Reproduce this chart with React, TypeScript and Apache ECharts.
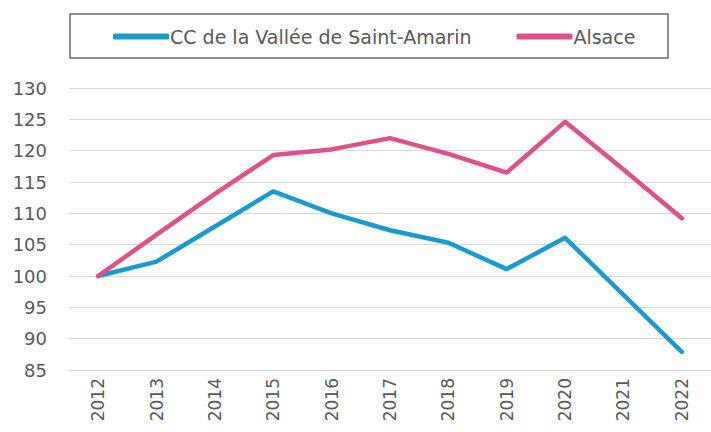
import React, { useEffect, useRef } from "react";
import * as echarts from "echarts";

const years = ["2012", "2013", "2014", "2015", "2016", "2017", "2018", "2019", "2020", "2021", "2022"];
const valleeSaintAmarin = [100, 102.3, 107.9, 113.5, 110.0, 107.3, 105.3, 101.1, 106.1, 97.0, 87.9];
const alsace = [100, 106.6, 113.1, 119.3, 120.2, 122.0, 119.5, 116.5, 124.6, 117.0, 109.2];
const seriesNames = ["CC de la Vallée de Saint-Amarin", "Alsace"];
const seriesColors = ["#1a9bd0", "#e0508a"];

const FONT = "DejaVu Sans";
const TEXT_COLOR = "#595959";

export default function App() {
  const ref = useRef<HTMLDivElement>(null);
  useEffect(() => {
    document.body.style.margin = "0";
    const chart = echarts.init(ref.current!, null, { renderer: "svg" });
    chart.setOption({
      animation: false,
      backgroundColor: "#ffffff",
      textStyle: { fontFamily: FONT },
      graphic: [
        {
          type: "rect",
          shape: { x: 70, y: 14, width: 598, height: 44 },
          style: { fill: "none", stroke: "#6e6e6e", lineWidth: 1.5 },
        },
      ],
      legend: {
        left: 108,
        top: 22,
        itemWidth: 56,
        itemHeight: 6,
        itemGap: 45,
        icon: "roundRect",
        textStyle: { fontFamily: FONT, fontSize: 19, color: TEXT_COLOR, padding: [0, 0, 0, -4] },
        data: seriesNames,
      },
      grid: { left: 69, right: -11, top: 88, bottom: 62 },
      xAxis: {
        type: "category",
        data: years,
        boundaryGap: true,
        axisLine: { show: false },
        axisTick: { show: false },
        axisLabel: {
          rotate: 90,
          margin: 8,
          fontFamily: FONT,
          fontSize: 17,
          color: TEXT_COLOR,
        },
      },
      yAxis: {
        type: "value",
        min: 85,
        max: 130,
        interval: 5,
        axisLine: { show: false },
        axisTick: { show: false },
        splitLine: { lineStyle: { color: "#d9d9d9", width: 1.2 } },
        axisLabel: { margin: 22, fontFamily: FONT, fontSize: 18, color: TEXT_COLOR },
      },
      series: [
        {
          name: seriesNames[0],
          type: "line",
          data: valleeSaintAmarin,
          showSymbol: false,
          symbol: "none",
          lineStyle: { width: 4.5, color: seriesColors[0], cap: "round", join: "round" },
          itemStyle: { color: seriesColors[0] },
        },
        {
          name: seriesNames[1],
          type: "line",
          data: alsace,
          showSymbol: false,
          symbol: "none",
          lineStyle: { width: 4.5, color: seriesColors[1], cap: "round", join: "round" },
          itemStyle: { color: seriesColors[1] },
        },
      ],
    });
    return () => chart.dispose();
  }, []);
  return <div ref={ref} style={{ width: 711, height: 432, position: "absolute", left: 0, top: 0 }} />;
}
